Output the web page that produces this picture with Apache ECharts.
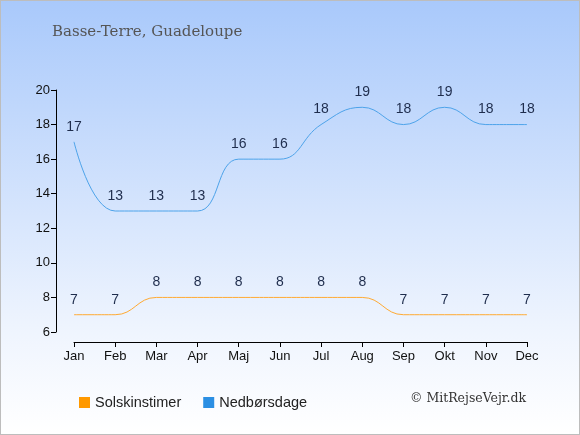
<!DOCTYPE html>
<html>
<head>
<meta charset="utf-8">
<script src="https://cdn.jsdelivr.net/npm/echarts@6/dist/echarts.min.js"></script>
<style>
  html, body { margin: 0; padding: 0; }
  #chart { width: 578px; height: 433px; border: 1px solid #bdbdbd; }
</style>
</head>
<body>
<div id="chart"></div>
<script>
const months = ['Jan', 'Feb', 'Mar', 'Apr', 'Maj', 'Jun', 'Jul', 'Aug', 'Sep', 'Okt', 'Nov', 'Dec'];
const sunHours = [7, 7, 8, 8, 8, 8, 8, 8, 7, 7, 7, 7];
const rainDays = [17, 13, 13, 13, 16, 16, 18, 19, 18, 19, 18, 18];

const chart = echarts.init(document.getElementById('chart'));

const labelStyle = {
  show: true,
  position: 'top',
  distance: 8,
  color: '#1f2d4d',
  fontSize: 14,
  fontFamily: 'Liberation Sans, Arial, sans-serif'
};

chart.setOption({
  backgroundColor: new echarts.graphic.LinearGradient(0, 0, 0, 1, [
    { offset: 0, color: '#a9c9fb' },
    { offset: 0.75, color: '#eef4fe' },
    { offset: 1, color: '#ffffff' }
  ]),
  animation: false,
  title: {
    text: 'Basse-Terre, Guadeloupe',
    left: 51,
    top: 24,
    padding: 0,
    textStyle: {
      fontFamily: 'DejaVu Serif, serif',
      fontWeight: 'normal',
      fontSize: 15,
      color: '#555555'
    }
  },
  grid: { left: 73, right: 52, top: 89, bottom: 102 },
  legend: {
    left: 73,
    top: 389,
    itemWidth: 11,
    itemHeight: 11,
    itemGap: 22,
    icon: 'rect',
    textStyle: { fontSize: 14.5, color: '#222', fontFamily: 'Liberation Sans, Arial, sans-serif' },
    data: ['Solskinstimer', 'Nedbørsdage']
  },
  graphic: [{
    type: 'text',
    right: 53,
    top: 391,
    style: {
      text: '© MitRejseVejr.dk',
      font: '12.5px "DejaVu Serif", serif',
      fill: '#333'
    }
  }],
  xAxis: {
    type: 'category',
    data: months,
    boundaryGap: false,
    offset: 10,
    axisLine: { lineStyle: { color: '#000' } },
    axisTick: { alignWithLabel: true, length: 5, lineStyle: { color: '#000' } },
    axisLabel: { color: '#111', fontSize: 13, margin: 8, fontFamily: 'Liberation Sans, Arial, sans-serif' },
    splitLine: { show: false }
  },
  yAxis: {
    type: 'value',
    min: 6,
    max: 20,
    interval: 2,
    offset: 18,
    axisLine: { show: true, lineStyle: { color: '#000' } },
    axisTick: { show: true, length: 5, lineStyle: { color: '#000' } },
    axisLabel: { color: '#111', fontSize: 13, margin: 6, fontFamily: 'Liberation Sans, Arial, sans-serif' },
    splitLine: { show: false }
  },
  series: [
    {
      name: 'Solskinstimer',
      type: 'line',
      data: sunHours,
      smooth: 0.45,
      showSymbol: true,
      symbol: 'circle',
      symbolSize: 0,
      itemStyle: { color: '#ff9900' },
      lineStyle: { color: '#ffaa33', width: 1 },
      label: labelStyle
    },
    {
      name: 'Nedbørsdage',
      type: 'line',
      data: rainDays,
      smooth: 0.45,
      showSymbol: true,
      symbol: 'circle',
      symbolSize: 0,
      itemStyle: { color: '#2b8fe3' },
      lineStyle: { color: '#4da3ea', width: 1 },
      label: labelStyle
    }
  ]
});
</script>
</body>
</html>
